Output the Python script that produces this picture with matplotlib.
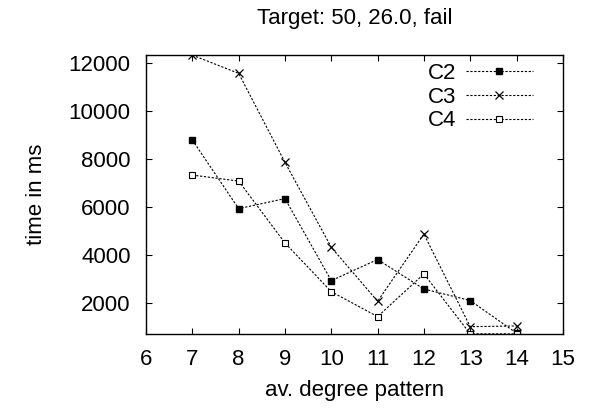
import matplotlib
matplotlib.use('Agg')
import matplotlib.pyplot as plt

plt.rcParams['font.family'] = ['Liberation Sans', 'DejaVu Sans']

degree = [7, 8, 9, 10, 11, 12, 13, 14]
c2 = [8790, 5930, 6350, 2930, 3810, 2580, 2100, 740]
c3 = [12330, 11570, 7860, 4320, 2070, 4870, 1010, 1040]
c4 = [7330, 7080, 4500, 2470, 1430, 3210, 710, 710]

fig = plt.figure(figsize=(5.9, 4.09), dpi=100)
ax = fig.add_axes([0.2475, 0.1834, 0.7065, 0.6821])

dash = (0, (2.0, 1.5))
ax.plot(degree, c2, color='black', lw=0.8, ls=dash, marker='s', ms=4.5,
        mfc='black', mec='black', label='C2')
ax.plot(degree, c3, color='black', lw=0.8, ls=dash, marker='x', ms=5.5,
        mew=0.9, label='C3')
ax.plot(degree, c4, color='black', lw=0.8, ls=dash, marker='s', ms=4.5,
        mfc='white', mec='black', mew=0.8, label='C4')

ax.set_xlim(6, 15)
ax.set_ylim(705, 12335)
ax.set_xticks(range(6, 16))
ax.set_yticks([2000, 4000, 6000, 8000, 10000, 12000])
ax.tick_params(direction='in', length=4, width=0.8, top=True, right=True,
               labelsize=16, pad=11)
for s in ax.spines.values():
    s.set_linewidth(1.0)

ax.set_xlabel('av. degree pattern', fontsize=16, labelpad=7)
ax.set_ylabel('time in ms', fontsize=16, labelpad=16)
ax.set_title('Target: 50, 26.0, fail', fontsize=16, pad=22)

ax.legend(loc='upper right', bbox_to_anchor=(0.97, 1.035), frameon=False,
          markerfirst=False, fontsize=16, handlelength=3.0, handletextpad=0.45,
          labelspacing=0.12, borderpad=0.3)

fig.savefig('out.png', dpi=100)
